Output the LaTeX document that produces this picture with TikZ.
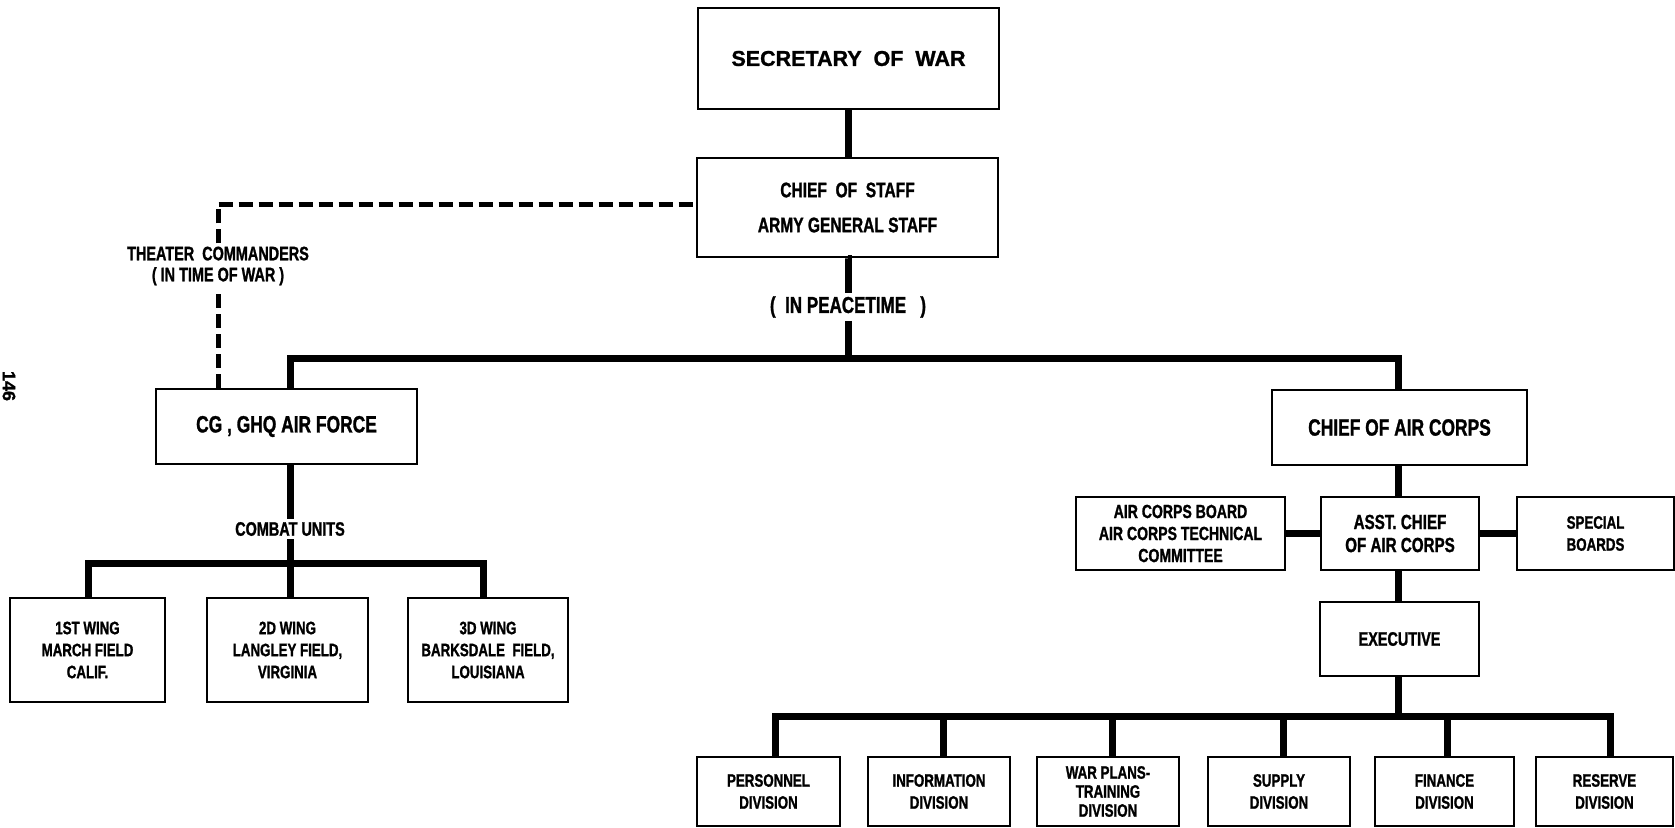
\documentclass[tikz,border=0pt]{standalone}
\usepackage{fontspec}
\setmainfont{Liberation Sans}[FakeStretch=0.74, BoldFeatures={FakeBold=1.2}]
\newfontfamily\widefont{Liberation Sans}[BoldFeatures={FakeBold=1.2}]
\begin{document}
\begin{tikzpicture}[x=1pt,y=-1pt,
  box/.style={draw, line width=2.8pt, inner sep=0pt, align=center,
    font=\bfseries\fontsize{18}{22}\selectfont},
  bigtext/.style={font=\bfseries\fontsize{23.5}{28}\selectfont},
  conn/.style={line width=7pt},
  dconn/.style={line width=5pt, dash pattern=on 14pt off 6pt},
  lbl/.style={inner sep=3pt, align=center, font=\bfseries\fontsize{19.5}{21}\selectfont}]
\useasboundingbox (0,0) rectangle (1675,827);

% page number
\node[rotate=-90, inner sep=0pt, font=\widefont\bfseries\fontsize{18}{18}\selectfont] (pg) at (9,386) {146};

% top
\node[box, minimum width=301pt, minimum height=101pt,
  font=\widefont\bfseries\fontsize{21.5}{25}\selectfont] (sec) at (848.5,58.5) {SECRETARY\ \ OF\ \ WAR};
\node[box, minimum width=301pt, minimum height=99pt,
  font=\bfseries\fontsize{21}{35}\selectfont] (cos) at (847.5,207.5) {CHIEF\ \ OF\ \ STAFF\\ARMY GENERAL STAFF};
\node[lbl, font=\bfseries\fontsize{23}{25}\selectfont] (peace) at (848,307) {(\ \ IN PEACETIME\ \ \ )};
\coordinate (bar1) at (848,358);

% second level
\node[box, bigtext, minimum width=261pt, minimum height=75pt] (cg) at (286.5,426.5) {CG , GHQ AIR FORCE};
\node[box, bigtext, minimum width=255pt, minimum height=75pt] (cac) at (1399.5,427.5) {CHIEF OF AIR CORPS};
\node[lbl] (theater) at (218,266) {THEATER\ \ COMMANDERS\\(\ IN TIME OF WAR\ )};

% combat units
\node[lbl] (combat) at (290,529) {COMBAT UNITS};
\coordinate (bar2) at (290,563);
\node[box, minimum width=155pt, minimum height=104pt] (w1) at (87.5,650) {1ST WING\\MARCH FIELD\\CALIF.};
\node[box, minimum width=161pt, minimum height=104pt] (w2) at (287.5,650) {2D WING\\LANGLEY FIELD,\\VIRGINIA};
\node[box, minimum width=160pt, minimum height=104pt] (w3) at (488,650) {3D WING\\BARKSDALE\ \ FIELD,\\LOUISIANA};

% air corps
\node[box, minimum width=209pt, minimum height=73pt, font=\bfseries\fontsize{19}{22}\selectfont] (acb) at (1180.5,533.5) {AIR CORPS BOARD\\AIR CORPS TECHNICAL\\COMMITTEE};
\node[box, minimum width=158pt, minimum height=73pt, font=\bfseries\fontsize{20.5}{23}\selectfont] (asst) at (1400,533.5) {ASST. CHIEF\\OF AIR CORPS};
\node[box, minimum width=157pt, minimum height=73pt] (spec) at (1595.5,533.5) {SPECIAL\\BOARDS};
\node[box, minimum width=159pt, minimum height=74pt, font=\bfseries\fontsize{19.5}{22}\selectfont] (exec) at (1399.5,639) {EXECUTIVE};
\coordinate (bar3) at (1399.5,716);

% divisions
\node[box, minimum width=143pt, minimum height=69pt] (d1) at (768.5,791.5) {PERSONNEL\\DIVISION};
\node[box, minimum width=142pt, minimum height=69pt] (d2) at (939,791.5) {INFORMATION\\DIVISION};
\node[box, minimum width=142pt, minimum height=69pt, font=\bfseries\fontsize{18}{19}\selectfont] (d3) at (1108,791.5) {WAR PLANS-\\TRAINING\\DIVISION};
\node[box, minimum width=142pt, minimum height=69pt] (d4) at (1279,791.5) {SUPPLY\\DIVISION};
\node[box, minimum width=139pt, minimum height=69pt] (d5) at (1444.5,791.5) {FINANCE\\DIVISION};
\node[box, minimum width=137pt, minimum height=69pt] (d6) at (1604.5,791.5) {RESERVE\\DIVISION};

% connectors
\draw[conn] (sec.south) -- (sec.south |- cos.north);
\draw[conn] (cos.south) -- (cos.south -| peace.north) -- (peace.north);
\draw[conn] (peace.south) -- (bar1);
\draw[conn] ([xshift=3.5pt]cg.north) |- (bar1) -| ([xshift=-1.5pt]cac.north);

\draw[dconn] (theater.south |- cg.north) -- (theater.south);
\draw[dconn] (theater.north) |- ([yshift=3.5pt]cos.west);

\draw[conn] ([xshift=3.5pt]cg.south) -- (combat.north);
\draw[conn] (combat.south) -- (combat.south |- w2.north);
\draw[conn] ([xshift=0.5pt]w1.north) |- (bar2) -| ([xshift=-5pt]w3.north);

\draw[conn] ([xshift=-1.5pt]cac.south) -- ([xshift=-2pt]asst.north);
\draw[conn] (acb.east) -- (asst.west);
\draw[conn] (asst.east) -- (spec.west);
\draw[conn] ([xshift=-2pt]asst.south) -- ([xshift=-1.5pt]exec.north);
\draw[conn] ([xshift=-1.5pt]exec.south) -- ([xshift=-1.5pt]bar3);
\draw[conn] ([xshift=6.5pt]d1.north) |- (bar3) -| ([xshift=5.5pt]d6.north);
\draw[conn] ([xshift=4pt]d2.north) -- ([xshift=4pt]d2.north |- bar3);
\draw[conn] ([xshift=4pt]d3.north) -- ([xshift=4pt]d3.north |- bar3);
\draw[conn] ([xshift=4pt]d4.north) -- ([xshift=4pt]d4.north |- bar3);
\draw[conn] ([xshift=2.5pt]d5.north) -- ([xshift=2.5pt]d5.north |- bar3);
\end{tikzpicture}
\end{document}
